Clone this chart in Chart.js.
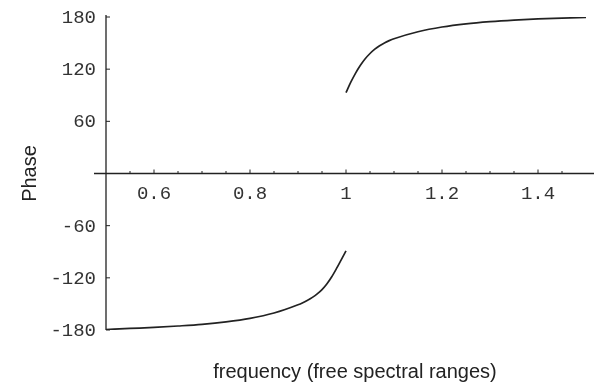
<!DOCTYPE html>
<html>
<head>
<meta charset="utf-8">
<script src="https://cdn.jsdelivr.net/npm/chart.js@4.4.0/dist/chart.umd.min.js"></script>
<style>
  html, body { margin: 0; padding: 0; background: #fff; }
  #wrap { width: 594px; height: 387px; }
</style>
</head>
<body>
<div id="wrap"><canvas id="myChart"></canvas></div>
<script>
// phase curve, below and above the jump at 1
let lowerX = [0.5, 0.55, 0.6, 0.65, 0.7, 0.75, 0.8, 0.85, 0.9,
    0.91, 0.92, 0.93, 0.94, 0.95, 0.96, 0.97, 0.98, 0.99, 1.0]
let lowerY = [-179.5, -178.2, -177, -175.4, -173.5, -170.7, -166.7, -160.5, -151,
    -148.6, -145.8, -142.5, -138.5, -133.5, -127, -119, -109.5, -99.3, -89]
let upperX = [1.0, 1.01, 1.02, 1.03, 1.04, 1.05, 1.06, 1.07, 1.08, 1.09, 1.1,
    1.15, 1.2, 1.25, 1.3, 1.35, 1.4, 1.45, 1.5]
let upperY = [93, 105, 115.5, 124.5, 132, 138, 143, 147, 150.2, 152.8, 155,
    163, 168.5, 172.2, 174.7, 176.5, 177.8, 178.8, 179.4]

let xTicks = [0.6, 0.8, 1, 1.2, 1.4]
let xMinor = [0.55, 0.65, 0.7, 0.75, 0.85, 0.9, 0.95, 1.05, 1.1, 1.15, 1.25, 1.3, 1.35, 1.45]
let yTicks = [-180, -120, -60, 60, 120, 180]
let xTitle = "frequency (free spectral ranges)"
let yTitle = "Phase"

let ink = "#222"
let monoFont = "19px 'Liberation Mono', 'Courier New', monospace"
let sansFont = "20px 'Liberation Sans', Arial, sans-serif"

function pts(xs, ys) {
    return xs.map((x, i) => ({ x: x, y: ys[i] }))
}

// draws the crossing axes, tick marks, tick labels and titles
const axesPlugin = {
    id: 'axes',
    afterDatasetsDraw(chart) {
        let ctx = chart.ctx
        let xs = chart.scales.x
        let ys = chart.scales.y
        let x0 = xs.getPixelForValue(0.5)
        let y0 = ys.getPixelForValue(0)
        ctx.save()
        ctx.strokeStyle = ink
        ctx.lineWidth = 1.3

        ctx.beginPath()
        ctx.moveTo(x0, ys.getPixelForValue(180) - 2)
        ctx.lineTo(x0, ys.getPixelForValue(-180))
        ctx.moveTo(x0 - 12, y0)
        ctx.lineTo(chart.width, y0)
        ctx.stroke()

        ctx.lineWidth = 1
        ctx.beginPath()
        yTicks.forEach(v => {
            let p = ys.getPixelForValue(v)
            ctx.moveTo(x0, p)
            ctx.lineTo(x0 + 4, p)
        })
        xTicks.forEach(v => {
            let p = xs.getPixelForValue(v)
            ctx.moveTo(p, y0)
            ctx.lineTo(p, y0 - 4)
        })
        xMinor.forEach(v => {
            let p = xs.getPixelForValue(v)
            ctx.moveTo(p, y0)
            ctx.lineTo(p, y0 - 2.5)
        })
        ctx.stroke()

        ctx.fillStyle = "#333"
        ctx.font = monoFont
        ctx.textAlign = 'right'
        ctx.textBaseline = 'middle'
        yTicks.forEach(v => {
            ctx.fillText(String(v), x0 - 10, ys.getPixelForValue(v) + 1)
        })
        ctx.textAlign = 'center'
        ctx.textBaseline = 'top'
        xTicks.forEach(v => {
            ctx.fillText(String(v), xs.getPixelForValue(v), y0 + 11)
        })

        ctx.fillStyle = ink
        ctx.font = sansFont
        ctx.textAlign = 'center'
        ctx.textBaseline = 'middle'
        ctx.fillText(xTitle, 355, 372)
        ctx.translate(30, y0)
        ctx.rotate(-Math.PI / 2)
        ctx.fillText(yTitle, 0, 0)
        ctx.restore()
    }
}

let chartObject = new Chart(document.getElementById("myChart"), {
    type: 'scatter',
    data: {
        datasets: [{
            data: pts(lowerX, lowerY),
            showLine: true,
            borderColor: ink,
            borderWidth: 1.7,
            pointRadius: 0,
            cubicInterpolationMode: 'monotone'
        }, {
            data: pts(upperX, upperY),
            showLine: true,
            borderColor: ink,
            borderWidth: 1.7,
            pointRadius: 0,
            cubicInterpolationMode: 'monotone'
        }]
    },
    options: {
        responsive: true,
        maintainAspectRatio: false,
        animation: false,
        layout: { padding: { left: 106, right: 8, top: 17, bottom: 57 } },
        plugins: { legend: { display: false }, tooltip: { enabled: false } },
        scales: {
            x: { type: 'linear', min: 0.5, max: 1.5, display: false },
            y: { type: 'linear', min: -180, max: 180, display: false }
        }
    },
    plugins: [axesPlugin]
});
</script>
</body>
</html>
